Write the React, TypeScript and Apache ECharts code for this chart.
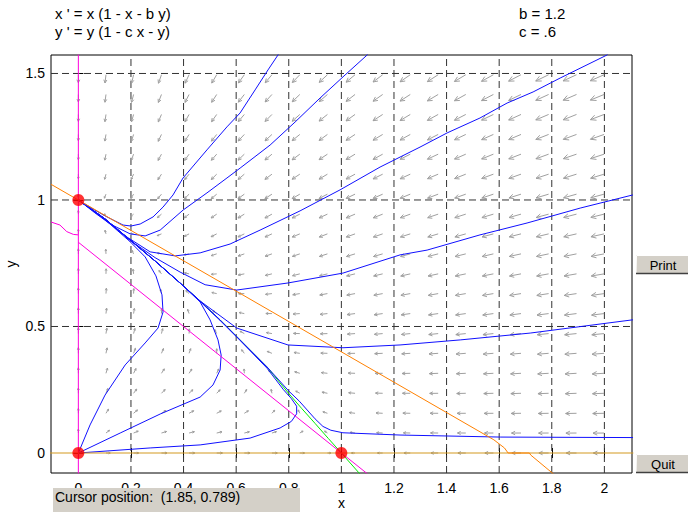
import React, { useEffect, useRef } from "react";
import * as echarts from "echarts";

const B_PARAM = 1.2;
const C_PARAM = 0.6;

const X_MIN = -0.104;
const X_MAX = 2.105;
const Y_MIN = -0.079;
const Y_MAX = 1.573;

const xTicks = [0, 0.2, 0.4, 0.6, 0.8, 1, 1.2, 1.4, 1.6, 1.8, 2];
const xTickLabels = ["0", "0.2", "0.4", "0.6", "0.8", "1", "1.2", "1.4", "1.6", "1.8", "2"];
const yTicks = [0, 0.5, 1, 1.5];
const yTickLabels = ["0", "0.5", "1", "1.5"];
const xGridLines = [0.2, 0.4, 0.6, 0.8, 1, 1.2, 1.4, 1.6, 1.8, 2];
const yGridLines = [0.5, 1, 1.5];

// direction-field sample grid
const fieldX = [0, 0.105, 0.21, 0.316, 0.421, 0.526, 0.631, 0.736, 0.842, 0.947, 1.052, 1.157, 1.262, 1.368, 1.473, 1.578, 1.683, 1.788, 1.894, 1.999];
const fieldY = [0, 0.079, 0.157, 0.236, 0.315, 0.394, 0.472, 0.551, 0.63, 0.708, 0.787, 0.866, 0.944, 1.023, 1.102, 1.181, 1.259, 1.338, 1.417, 1.495];

const equilibria = [[0, 0], [0, 1], [1, 0]];

// nullclines
const xNullVertical = [[0, -0.1], [0, 1.6]];
const xNullLeftBit = [[-0.104, 0.913], [-0.07, 0.901], [-0.044, 0.875], [-0.019, 0.864], [0, 0.862]];
const xNullLine = [[0, 0.833], [1.1, -0.083]];
const yNullHorizontal = [[-0.11, 0], [2.11, 0]];
const yNullLine = [[-0.104, 1.062], [1.58, 0.052], [1.62, 0.02], [1.634, 0], [1.715, 0], [1.72, -0.008], [1.81, -0.086]];

// separatrix (green)
const separatrix = [[0, 1], [0.1015, 0.925], [0.1966, 0.842], [0.2916, 0.759], [0.3867, 0.672], [0.4627, 0.601], [0.5388, 0.526], [0.6148, 0.447], [0.7175, 0.34], [0.8, 0.235], [0.85, 0.175], [0.9, 0.117], [0.95, 0.058], [1, 0], [1.075, -0.088]];

// solution curves (blue)
const trajA = [[0.775, 1.6], [0.759, 1.573], [0.721, 1.514], [0.672, 1.435], [0.615, 1.344], [0.565, 1.289], [0.489, 1.198], [0.398, 1.087], [0.36, 1.02], [0.322, 0.972], [0.284, 0.933], [0.235, 0.905], [0.2, 0.897], [0.17, 0.901], [0.109, 0.933], [0.063, 0.96], [0, 1]];
const trajB = [[1.11, 1.6], [1.098, 1.573], [1.014, 1.494], [0.919, 1.403], [0.824, 1.308], [0.729, 1.217], [0.615, 1.126], [0.565, 1.087], [0.489, 1.028], [0.398, 0.96], [0.311, 0.881], [0.254, 0.858], [0.197, 0.866], [0.121, 0.905], [0.063, 0.949], [0, 1]];
const trajC = [[2.03, 1.6], [2.01, 1.573], [1.832, 1.482], [1.729, 1.427], [1.63, 1.383], [1.527, 1.324], [1.402, 1.265], [1.299, 1.209], [1.147, 1.13], [0.995, 1.04], [0.843, 0.957], [0.691, 0.881], [0.577, 0.826], [0.463, 0.791], [0.368, 0.779], [0.273, 0.795], [0.178, 0.858], [0.09, 0.932], [0, 1]];
const trajD = [[2.15, 1.035], [2.108, 1.02], [1.908, 0.968], [1.706, 0.909], [1.527, 0.862], [1.326, 0.802], [1.223, 0.783], [1.006, 0.711], [0.797, 0.672], [0.602, 0.644], [0.482, 0.665], [0.387, 0.715], [0.292, 0.772], [0.197, 0.84], [0.1015, 0.925], [0, 1]];
const trajE = [[2.15, 0.53], [2.105, 0.526], [1.718, 0.474], [1.452, 0.447], [1.223, 0.427], [1.006, 0.416], [0.797, 0.427], [0.602, 0.494], [0.4627, 0.601], [0.3867, 0.672], [0.2916, 0.759], [0.1966, 0.842], [0.1015, 0.925], [0, 1]];
const trajF = [[2.15, 0.061], [2.105, 0.061], [1.604, 0.063], [1.223, 0.071], [1.006, 0.08], [0.96, 0.09], [0.93, 0.105], [0.9, 0.135], [0.87, 0.17], [0.84, 0.205], [0.8, 0.245], [0.7175, 0.34], [0.6148, 0.447], [0.5388, 0.526], [0.4627, 0.601], [0.3867, 0.672], [0.2916, 0.759], [0.1966, 0.842], [0.1015, 0.925], [0, 1]];
const trajG = [[0, 0], [0.0445, 0.111], [0.1015, 0.229], [0.178, 0.348], [0.254, 0.435], [0.303, 0.494], [0.322, 0.557], [0.318, 0.625], [0.295, 0.7], [0.254, 0.775], [0.197, 0.835], [0.1015, 0.922], [0, 1]];
const trajH = [[0, 0], [0.159, 0.079], [0.311, 0.154], [0.463, 0.221], [0.512, 0.269], [0.539, 0.328], [0.543, 0.387], [0.531, 0.447], [0.501, 0.526], [0.463, 0.597], [0.3867, 0.672], [0.2916, 0.759], [0.1966, 0.842], [0.1015, 0.925], [0, 1]];
const trajI = [[0, 0], [0.273, 0.02], [0.463, 0.032], [0.653, 0.059], [0.767, 0.099], [0.81, 0.125], [0.83, 0.155], [0.83, 0.185], [0.81, 0.215], [0.78, 0.25], [0.7175, 0.335], [0.6148, 0.445], [0.5388, 0.524], [0.4627, 0.599], [0.3867, 0.672], [0.2916, 0.759], [0.1966, 0.842], [0.1015, 0.925], [0, 1]];

const trajectories = [trajA, trajB, trajC, trajD, trajE, trajF, trajG, trajH, trajI];

const FONT = "'Liberation Sans', Arial, Helvetica, sans-serif";
const ARROW_COLOR = "#a0a0a0";

function labelFor(v: number, ticks: number[], labels: string[]) {
  for (let i = 0; i < ticks.length; i++) {
    if (Math.abs(ticks[i] - v) < 1e-6) return labels[i];
  }
  return "";
}

function renderArrow(_params: any, api: any) {
  const x = api.value(0) as number;
  const y = api.value(1) as number;
  const u = x * (1 - x - B_PARAM * y);
  const v = y * (1 - C_PARAM * x - y);
  const m = Math.hypot(u, v);
  if (m < 1e-6) return { type: "group", children: [] };
  const p0 = api.coord([x, y]);
  const sz = api.size([1, 1]);
  let dx = u * sz[0];
  let dy = -v * sz[1];
  const d = Math.hypot(dx, dy);
  dx /= d;
  dy /= d;
  const L = Math.max(2.5, 15 * Math.pow(Math.min(m / 6, 1.1), 0.3));
  const tx = p0[0] + dx * L;
  const ty = p0[1] + dy * L;
  const h = Math.max(2, 0.42 * L);
  const a = 0.45;
  const bx = -dx;
  const by = -dy;
  const h1x = bx * Math.cos(a) - by * Math.sin(a);
  const h1y = bx * Math.sin(a) + by * Math.cos(a);
  const h2x = bx * Math.cos(-a) - by * Math.sin(-a);
  const h2y = bx * Math.sin(-a) + by * Math.cos(-a);
  return {
    type: "group",
    children: [
      {
        type: "line",
        shape: { x1: p0[0], y1: p0[1], x2: tx, y2: ty },
        style: { stroke: ARROW_COLOR, lineWidth: 1 },
      },
      {
        type: "polyline",
        shape: {
          points: [
            [tx + h1x * h, ty + h1y * h],
            [tx, ty],
            [tx + h2x * h, ty + h2y * h],
          ],
        },
        style: { stroke: ARROW_COLOR, fill: "none", lineWidth: 1 },
      },
    ],
  };
}

function lineSeries(data: number[][], color: string, width = 1, extra: any = {}) {
  return {
    type: "line",
    data,
    showSymbol: false,
    symbol: "none",
    clip: true,
    silent: true,
    lineStyle: { color, width, ...(extra.lineStyle || {}) },
    z: extra.z ?? 3,
  };
}

function button(label: string, x: number, y: number) {
  const w = 52;
  const h = 19;
  return {
    type: "group",
    x,
    y,
    z: 100,
    children: [
      { type: "rect", shape: { x: 0, y: 0, width: w, height: h }, style: { fill: "#d4d0c8" }, z: 100 },
      { type: "polyline", shape: { points: [[0, h - 0.5], [0.5, 0.5], [w, 0.5]] }, style: { stroke: "#ffffff", fill: "none", lineWidth: 1 }, z: 101 },
      { type: "polyline", shape: { points: [[0, h - 0.5], [w, h - 0.5]] }, style: { stroke: "#404040", fill: "none", lineWidth: 1.5 }, z: 101 },
      {
        type: "text",
        x: 27,
        y: h / 2 + 0.5,
        z: 102,
        style: { text: label, fill: "#000", font: `13px ${FONT}`, align: "center", verticalAlign: "middle" },
      },
    ],
  };
}

export default function App() {
  const ref = useRef<HTMLDivElement>(null);

  useEffect(() => {
    if (!ref.current) return;
    const chart = echarts.init(ref.current, undefined, { renderer: "svg" });

    const fieldData: number[][] = [];
    for (const fx of fieldX) for (const fy of fieldY) fieldData.push([fx, fy]);

    const gridLines: any[] = [];
    xGridLines.forEach((gx) => {
      gridLines.push(
        lineSeries([[gx, Y_MIN], [gx, Y_MAX]], "#333", 1, { lineStyle: { type: [7, 4] }, z: 1 })
      );
    });
    yGridLines.forEach((gy) => {
      gridLines.push(
        lineSeries([[X_MIN, gy], [X_MAX, gy]], "#333", 1, { lineStyle: { type: [7, 4] }, z: 1 })
      );
    });

    const option: any = {
      animation: false,
      backgroundColor: "#ffffff",
      grid: {
        left: 51,
        top: 55,
        right: 56,
        bottom: 40,
        show: true,
        containLabel: false,
        outerBoundsMode: "none",
        borderColor: "#000",
        borderWidth: 1,
        backgroundColor: "transparent",
      },
      xAxis: [
        {
          type: "value",
          min: X_MIN,
          max: X_MAX,
          position: "bottom",
          axisLine: { show: false },
          axisTick: { show: true, inside: true, length: 5, customValues: xTicks, lineStyle: { color: "#000" } },
          axisLabel: {
            customValues: xTicks,
            formatter: (v: number) => labelFor(v, xTicks, xTickLabels),
            fontSize: 14,
            color: "#000",
            fontFamily: FONT,
            margin: 8,
          },
          splitLine: { show: false },
          name: "x",
          nameLocation: "middle",
          nameGap: 22,
          nameMoveOverlap: false,
          nameTextStyle: { fontSize: 14, color: "#000", fontFamily: FONT, lineHeight: 15 },
        },
        {
          type: "value",
          min: X_MIN,
          max: X_MAX,
          position: "top",
          axisLine: { show: false },
          axisTick: { show: true, inside: true, length: 5, customValues: xTicks, lineStyle: { color: "#000" } },
          axisLabel: { show: false },
          splitLine: { show: false },
        },
      ],
      yAxis: [
        {
          type: "value",
          min: Y_MIN,
          max: Y_MAX,
          position: "left",
          axisLine: { show: false },
          axisTick: { show: true, inside: true, length: 5, customValues: yTicks, lineStyle: { color: "#000" } },
          axisLabel: {
            customValues: yTicks,
            formatter: (v: number) => labelFor(v, yTicks, yTickLabels),
            fontSize: 14,
            color: "#000",
            fontFamily: FONT,
            margin: 6,
          },
          splitLine: { show: false },
          name: "y",
          nameLocation: "middle",
          nameGap: 33,
          nameRotate: 90,
          nameMoveOverlap: false,
          nameTextStyle: { fontSize: 14, color: "#000", fontFamily: FONT },
        },
        {
          type: "value",
          min: Y_MIN,
          max: Y_MAX,
          position: "right",
          axisLine: { show: false },
          axisTick: { show: true, inside: true, length: 5, customValues: yTicks, lineStyle: { color: "#000" } },
          axisLabel: { show: false },
          splitLine: { show: false },
        },
      ],
      series: [
        ...gridLines,
        {
          type: "custom",
          renderItem: renderArrow,
          data: fieldData,
          encode: { x: 0, y: 1 },
          clip: true,
          silent: true,
          z: 2,
        },
        lineSeries(separatrix, "#00ee00", 1, { z: 3 }),
        ...trajectories.map((t) => lineSeries(t, "#1010ff", 1, { z: 4 })),
        lineSeries(xNullVertical, "#ff00dd", 1, { z: 5 }),
        lineSeries(xNullLeftBit, "#ff00dd", 1, { z: 5 }),
        lineSeries(xNullLine, "#ff00dd", 1, { z: 5 }),
        lineSeries(yNullHorizontal, "#d49a20", 1.2, { z: 5 }),
        lineSeries(yNullLine, "#ff8000", 1, { z: 5 }),
        {
          type: "scatter",
          data: equilibria,
          symbol: "circle",
          symbolSize: 12,
          itemStyle: { color: "#ff0000" },
          silent: true,
          z: 6,
        },
      ],
      graphic: [
        { type: "text", x: 55, y: 13, z: 100, style: { text: "x ' = x (1 - x - b y)", fill: "#000", font: `15px ${FONT}`, verticalAlign: "middle" } },
        { type: "text", x: 55, y: 31, z: 100, style: { text: "y ' = y (1 - c x - y)", fill: "#000", font: `15px ${FONT}`, verticalAlign: "middle" } },
        { type: "text", x: 519, y: 13, z: 100, style: { text: "b = 1.2", fill: "#000", font: `15px ${FONT}`, verticalAlign: "middle" } },
        { type: "text", x: 519, y: 31, z: 100, style: { text: "c = .6", fill: "#000", font: `15px ${FONT}`, verticalAlign: "middle" } },
        {
          type: "group",
          x: 53,
          y: 488,
          z: 100,
          children: [
            { type: "rect", shape: { x: 0, y: 0, width: 247, height: 24 }, style: { fill: "#d4d0c8" }, z: 100 },
            {
              type: "text",
              x: 2,
              y: 9,
              z: 101,
              style: { text: "Cursor position:  (1.85, 0.789)", fill: "#000", font: `14px ${FONT}`, verticalAlign: "middle" },
            },
          ],
        },
        button("Print", 636, 255),
        button("Quit", 636, 454),
      ],
    };

    chart.setOption(option);
    return () => chart.dispose();
  }, []);

  return (
    <div
      ref={ref}
      style={{ position: "absolute", left: 0, top: 0, width: 688, height: 513, background: "#fff" }}
    />
  );
}
